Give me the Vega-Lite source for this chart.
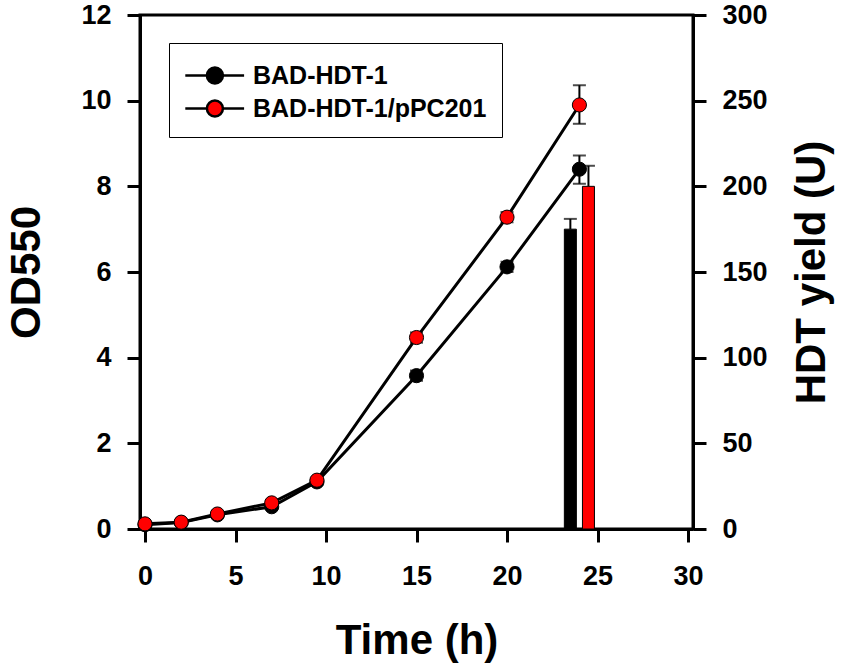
{
  "$schema": "https://vega.github.io/schema/vega-lite/v6.json",
  "width": 553,
  "height": 514,
  "autosize": "none",
  "padding": {"left": 140, "top": 15, "right": 158, "bottom": 137},
  "background": "white",
  "datasets": {
    "growth": [
      {"series": "BAD-HDT-1", "t": 0, "od": 0.1, "lo": 0.07, "hi": 0.13},
      {"series": "BAD-HDT-1", "t": 2, "od": 0.15, "lo": 0.12, "hi": 0.18},
      {"series": "BAD-HDT-1", "t": 4, "od": 0.33, "lo": 0.29, "hi": 0.37},
      {"series": "BAD-HDT-1", "t": 7, "od": 0.52, "lo": 0.47, "hi": 0.57},
      {"series": "BAD-HDT-1", "t": 9.5, "od": 1.1, "lo": 1.04, "hi": 1.16},
      {"series": "BAD-HDT-1", "t": 15, "od": 3.58, "lo": 3.46, "hi": 3.7},
      {"series": "BAD-HDT-1", "t": 20, "od": 6.12, "lo": 6.0, "hi": 6.24},
      {"series": "BAD-HDT-1", "t": 24, "od": 8.4, "lo": 8.06, "hi": 8.72},
      {"series": "BAD-HDT-1/pPC201", "t": 0, "od": 0.12, "lo": 0.09, "hi": 0.15},
      {"series": "BAD-HDT-1/pPC201", "t": 2, "od": 0.16, "lo": 0.13, "hi": 0.19},
      {"series": "BAD-HDT-1/pPC201", "t": 4, "od": 0.35, "lo": 0.31, "hi": 0.39},
      {"series": "BAD-HDT-1/pPC201", "t": 7, "od": 0.61, "lo": 0.55, "hi": 0.67},
      {"series": "BAD-HDT-1/pPC201", "t": 9.5, "od": 1.14, "lo": 1.08, "hi": 1.2},
      {"series": "BAD-HDT-1/pPC201", "t": 15, "od": 4.47, "lo": 4.35, "hi": 4.59},
      {"series": "BAD-HDT-1/pPC201", "t": 20, "od": 7.28, "lo": 7.16, "hi": 7.4},
      {"series": "BAD-HDT-1/pPC201", "t": 24, "od": 9.9, "lo": 9.46, "hi": 10.36}
    ],
    "yield": [
      {"series": "BAD-HDT-1", "t": 23.5, "u": 175, "hi": 181},
      {"series": "BAD-HDT-1/pPC201", "t": 24.5, "u": 200, "hi": 212}
    ]
  },
  "encoding": {
    "x": {
      "field": "t",
      "type": "quantitative",
      "scale": {"domain": [0, 30], "nice": false},
      "axis": {"values": [0, 5, 10, 15, 20, 25, 30], "title": "Time (h)", "labelPadding": 21, "titlePadding": 31}
    }
  },
  "layer": [
    {
      "data": {"name": "growth"},
      "encoding": {
        "y": {
          "field": "od",
          "type": "quantitative",
          "scale": {"domain": [0, 12], "nice": false},
          "axis": {"values": [0, 2, 4, 6, 8, 10, 12], "title": "OD550", "orient": "left", "titlePadding": 32}
        }
      },
      "layer": [
        {
          "mark": {"type": "line", "color": "black", "strokeWidth": 3},
          "encoding": {"detail": {"field": "series"}}
        },
        {
          "mark": {"type": "rule", "color": "black", "strokeWidth": 2},
          "encoding": {"y": {"field": "lo", "type": "quantitative"}, "y2": {"field": "hi"}}
        },
        {
          "mark": {"type": "tick", "orient": "horizontal", "color": "black", "size": 13, "thickness": 2},
          "encoding": {"y": {"field": "lo", "type": "quantitative"}}
        },
        {
          "mark": {"type": "tick", "orient": "horizontal", "color": "black", "size": 13, "thickness": 2},
          "encoding": {"y": {"field": "hi", "type": "quantitative"}}
        },
        {
          "mark": {"type": "point", "shape": "circle", "filled": true, "size": 200, "stroke": "black", "strokeWidth": 1, "opacity": 1},
          "encoding": {
            "fill": {
              "field": "series",
              "type": "nominal",
              "scale": {"domain": ["BAD-HDT-1", "BAD-HDT-1/pPC201"], "range": ["black", "#ff0000"]},
              "legend": {
                "title": " ",
                "titleFontSize": 5,
                "titlePadding": 0,
                "orient": "none",
                "legendX": 29,
                "legendY": 28,
                "symbolType": "M-1.4,0H1.3A1,1 0 1,0 3.3,0A1,1 0 1,0 1.3,0ZM3.3,0H5.95",
                "symbolSize": 256,
                "symbolStrokeColor": "black",
                "symbolStrokeWidth": 2.5,
                "symbolOpacity": 1,
                "labelFontSize": 25,
                "labelFontWeight": "bold",
                "labelFont": "Liberation Sans",
                "labelColor": "black",
                "labelOffset": 44,
                "labelLimit": 400,
                "rowPadding": 6,
                "padding": 15,
                "strokeColor": "black",
                "fillColor": "white"
              }
            }
          }
        }
      ]
    },
    {
      "data": {"name": "yield"},
      "encoding": {
        "y": {
          "field": "u",
          "type": "quantitative",
          "scale": {"domain": [0, 300], "nice": false},
          "axis": {"values": [0, 50, 100, 150, 200, 250, 300], "title": "HDT yield (U)", "orient": "right", "titleAngle": 270, "titleBaseline": "top", "titlePadding": 24}
        }
      },
      "layer": [
        {
          "mark": {"type": "rule", "color": "black", "strokeWidth": 2},
          "encoding": {"y2": {"field": "hi"}}
        },
        {
          "mark": {"type": "tick", "orient": "horizontal", "color": "black", "size": 13, "thickness": 2},
          "encoding": {"y": {"field": "hi", "type": "quantitative"}}
        },
        {
          "mark": {"type": "bar", "size": 12, "stroke": "black", "strokeWidth": 1},
          "encoding": {
            "fill": {"field": "series", "type": "nominal", "legend": null}
          }
        }
      ]
    }
  ],
  "resolve": {"scale": {"y": "independent"}},
  "config": {
    "font": "Liberation Sans",
    "view": {"stroke": "black", "strokeWidth": 3},
    "axis": {
      "grid": false,
      "domainColor": "black",
      "domainWidth": 3,
      "tickColor": "black",
      "tickWidth": 3,
      "tickSize": 13,
      "labelFont": "Liberation Sans",
      "labelFontSize": 27,
      "labelFontWeight": "bold",
      "labelColor": "black",
      "labelPadding": 16,
      "titleFont": "Liberation Sans",
      "titleFontSize": 42,
      "titleFontWeight": "bold",
      "titleColor": "black"
    }
  }
}
